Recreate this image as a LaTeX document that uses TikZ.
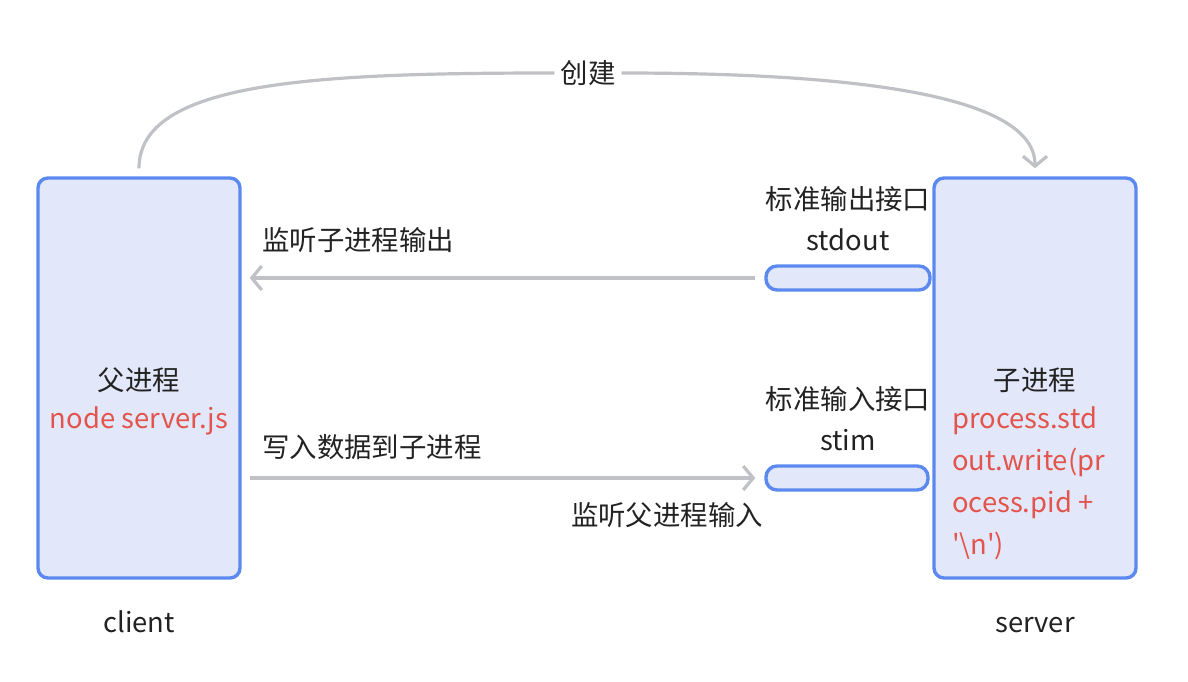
\documentclass[tikz,border=0pt]{standalone}
\usepackage{fontspec}
\setmainfont{Noto Sans CJK SC}
\usetikzlibrary{arrows.meta}
\definecolor{bordblue}{HTML}{5B89F0}
\definecolor{fillblue}{HTML}{E2E8FA}
\definecolor{arrgray}{HTML}{BFC1C6}
\definecolor{txtred}{HTML}{E2544C}
\definecolor{txtdark}{HTML}{222222}
\begin{document}
\begin{tikzpicture}[x=1pt,y=-1pt,
  every node/.style={font=\fontsize{27.4}{32}\selectfont, text=txtdark, inner sep=0pt},
  procbox/.style={draw=bordblue, fill=fillblue, line width=3.4pt, rounded corners=10pt, minimum width=202pt, minimum height=400pt},
  pill/.style={draw=bordblue, fill=fillblue, line width=3.4pt, rounded corners=11pt, minimum height=24pt},
  conn/.style={draw=arrgray, line width=3.2pt, -{Straight Barb[length=10pt,width=24pt]}},
  redtxt/.style={text=txtred, anchor=base west},
  lbl/.style={anchor=base}
]
\useasboundingbox (0,0) rectangle (1188,682);
\node[procbox] (L) at (139,378) {};
\node[procbox] (R) at (1035,378) {};
\node[pill, minimum width=164pt] (so) at (848,278) {};
\node[pill, minimum width=162pt] (si) at (847,478) {};

% labels
\node[inner sep=6pt] (create) at (588,73) {创建};
\node[lbl] (soT) at (848,209) {标准输出接口};
\node[lbl] (soN) at (848,250) {stdout};
\node[lbl] (siT) at (848,409) {标准输入接口};
\node[lbl] (siN) at (848,450) {stim};
\node[anchor=base west] (lsn) at (262,250) {监听子进程输出};
\node[anchor=base west] (wr) at (262,457) {写入数据到子进程};
\node[lbl] (lsp) at (667,525) {监听父进程输入};
\node[lbl] (Lt) at (139,390) {父进程};
\node[lbl, text=txtred] (Lc) at (139,428) {node server.js};
\node[lbl] (Rt) at (1035,390) {子进程};
\node[redtxt] (r1) at (952,428) {process.std};
\node[redtxt] (r2) at (952,470) {out.write(pr};
\node[redtxt] (r3) at (952,512) {ocess.pid +};
\node[redtxt] (r4) at (952,554) {\textquotesingle\textbackslash n\textquotesingle)};
\node[lbl] (cl) at (139,632) {client};
\node[lbl] (sv) at (1035,632) {server};

% connectors
\draw[arrgray, line width=3.2pt, shorten <=8pt] (L.north) .. controls +(0,-95) and +(-240,0) .. (create.west);
\draw[conn, shorten >=8pt] (create.east) .. controls +(240,0) and +(0,-80) .. (R.north);
\draw[conn, shorten <=9pt, shorten >=8pt] (so.west) -- (so.west -| L.east);
\draw[conn, shorten <=8pt, shorten >=9pt] (si.west -| L.east) -- (si.west);
\end{tikzpicture}
\end{document}
